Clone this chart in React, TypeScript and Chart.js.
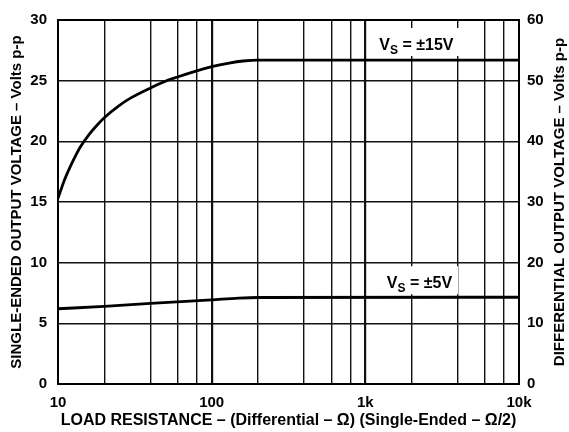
import React, { useEffect, useRef } from 'react';
import { Chart, registerables } from 'chart.js';

Chart.register(...registerables);

// ---- data ----
const resistance15 = [10, 11, 12, 13, 14, 16, 18, 20, 25, 30, 40, 50, 60, 80, 100, 130, 160, 200, 10000];
const voltage15 = [15.3, 16.8, 17.9, 18.8, 19.55, 20.6, 21.35, 21.95, 22.95, 23.6, 24.4, 24.95, 25.3, 25.8, 26.15, 26.45, 26.62, 26.7, 26.7];
const resistance5 = [10, 20, 40, 100, 150, 200, 10000];
const voltage5 = [6.2, 6.4, 6.64, 6.94, 7.08, 7.13, 7.15];
const seriesSupply = ['±15V', '±5V'];

const xGridValues = [10, 20, 40, 60, 80, 100, 200, 400, 600, 800, 1000, 2000, 4000, 6000, 8000, 10000];
const xTickValues = [10, 100, 1000, 10000];
const xTickLabels = ['10', '100', '1k', '10k'];
const yLeftTicks = [0, 5, 10, 15, 20, 25, 30];
const yRightTicks = [0, 10, 20, 30, 40, 50, 60];

const xTitle = 'LOAD RESISTANCE – (Differential – Ω) (Single-Ended – Ω/2)';
const yLeftTitle = 'SINGLE-ENDED OUTPUT VOLTAGE – Volts p-p';
const yRightTitle = 'DIFFERENTIAL OUTPUT VOLTAGE – Volts p-p';

const FONT = '"Liberation Sans", Arial, Helvetica, sans-serif';

function drawSupplyLabel(ctx: CanvasRenderingContext2D, cx: number, baseline: number, value: string) {
  ctx.save();
  ctx.font = `bold 16px ${FONT}`;
  const wV = ctx.measureText('V').width;
  const rest = ' = ' + value;
  const wR = ctx.measureText(rest).width;
  ctx.font = `bold 12px ${FONT}`;
  const wS = ctx.measureText('S').width;
  const total = wV + wS + wR;
  const left = cx - total / 2;
  ctx.fillStyle = '#fff';
  ctx.fillRect(left - 7, baseline - 22, total + 13, 28);
  ctx.fillStyle = '#000';
  ctx.textAlign = 'left';
  ctx.textBaseline = 'alphabetic';
  ctx.font = `bold 16px ${FONT}`;
  ctx.fillText('V', left, baseline);
  ctx.font = `bold 12px ${FONT}`;
  ctx.fillText('S', left + wV, baseline + 4);
  ctx.font = `bold 16px ${FONT}`;
  ctx.fillText(rest, left + wV + wS, baseline);
  ctx.restore();
}

const decorPlugin = {
  id: 'decor',
  afterDatasetsDraw(chart: any) {
    const { ctx, chartArea: a, scales } = chart;
    const x = scales.x;
    const y = scales.y;
    drawSupplyLabel(ctx, x.getPixelForValue(2150), y.getPixelForValue(voltage15[voltage15.length - 1]) - 10, seriesSupply[0]);
    drawSupplyLabel(ctx, x.getPixelForValue(2250), y.getPixelForValue(voltage5[voltage5.length - 1]) - 9, seriesSupply[1]);

    ctx.save();
    ctx.strokeStyle = '#000';
    ctx.lineWidth = 2;
    ctx.strokeRect(a.left, a.top, a.right - a.left, a.bottom - a.top);
    ctx.restore();

    const cy = (a.top + a.bottom) / 2;
    ctx.save();
    ctx.fillStyle = '#000';
    ctx.textAlign = 'center';
    ctx.textBaseline = 'middle';
    ctx.font = `bold 15px ${FONT}`;
    ctx.save();
    ctx.translate(17, cy);
    ctx.rotate(-Math.PI / 2);
    ctx.fillText(yLeftTitle, 0, 0);
    ctx.restore();
    ctx.save();
    ctx.translate(560, cy);
    ctx.rotate(-Math.PI / 2);
    ctx.fillText(yRightTitle, 0, 0);
    ctx.restore();
    ctx.font = `bold 16px ${FONT}`;
    ctx.fillText(xTitle, (a.left + a.right) / 2, a.bottom + 37);
    ctx.restore();
  },
};

export default function App() {
  const ref = useRef<HTMLCanvasElement>(null);
  useEffect(() => {
    if (!ref.current) return;
    const chart = new Chart(ref.current, {
      type: 'line',
      data: {
        datasets: [
          {
            label: seriesSupply[0],
            data: resistance15.map((r, i) => ({ x: r, y: voltage15[i] })),
            borderColor: '#000',
            borderWidth: 2.8,
            pointRadius: 0,
            cubicInterpolationMode: 'monotone',
            yAxisID: 'y',
          },
          {
            label: seriesSupply[1],
            data: resistance5.map((r, i) => ({ x: r, y: voltage5[i] })),
            borderColor: '#000',
            borderWidth: 2.8,
            pointRadius: 0,
            cubicInterpolationMode: 'monotone',
            yAxisID: 'y',
          },
        ],
      },
      options: {
        animation: false,
        responsive: false,
        devicePixelRatio: 1,
        layout: { padding: { top: 15, left: 0, right: 0, bottom: 0 } },
        plugins: { legend: { display: false }, tooltip: { enabled: false } },
        scales: {
          x: {
            type: 'logarithmic',
            min: 10,
            max: 10000,
            afterBuildTicks: (s: any) => {
              s.ticks = xGridValues.map((v) => ({ value: v }));
            },
            afterFit: (s: any) => {
              s.height = 48;
            },
            ticks: {
              autoSkip: false,
              maxRotation: 0,
              padding: 10,
              color: '#000',
              font: { family: FONT, size: 15, weight: 'bold' },
              callback: (v: any) => {
                const i = xTickValues.indexOf(Number(v));
                return i >= 0 ? xTickLabels[i] : '';
              },
            },
            grid: {
              color: '#111',
              lineWidth: (c: any) => {
                const v = c.tick ? c.tick.value : 0;
                return v === 100 || v === 1000 ? 2.2 : 1.4;
              },
              drawTicks: false,
            },
            border: { display: false },
          },
          y: {
            position: 'left',
            min: 0,
            max: 30,
            afterBuildTicks: (s: any) => {
              s.ticks = yLeftTicks.map((v) => ({ value: v }));
            },
            afterFit: (s: any) => {
              s.width = 58;
            },
            ticks: {
              padding: 11,
              color: '#000',
              font: { family: FONT, size: 15, weight: 'bold' },
            },
            grid: { color: '#111', lineWidth: 1.4, drawTicks: false },
            border: { display: false },
          },
          y1: {
            position: 'right',
            min: 0,
            max: 60,
            afterBuildTicks: (s: any) => {
              s.ticks = yRightTicks.map((v) => ({ value: v }));
            },
            afterFit: (s: any) => {
              s.width = 50;
            },
            ticks: {
              padding: 8,
              color: '#000',
              font: { family: FONT, size: 15, weight: 'bold' },
            },
            grid: { display: false, drawTicks: false },
            border: { display: false },
          },
        },
      },
      plugins: [decorPlugin],
    } as any);
    return () => chart.destroy();
  }, []);
  return (
    <div style={{ position: 'fixed', left: 0, top: 0, width: 569, height: 432, background: '#fff' }}>
      <canvas ref={ref} width={569} height={432} style={{ display: 'block', width: 569, height: 432 }} />
    </div>
  );
}
